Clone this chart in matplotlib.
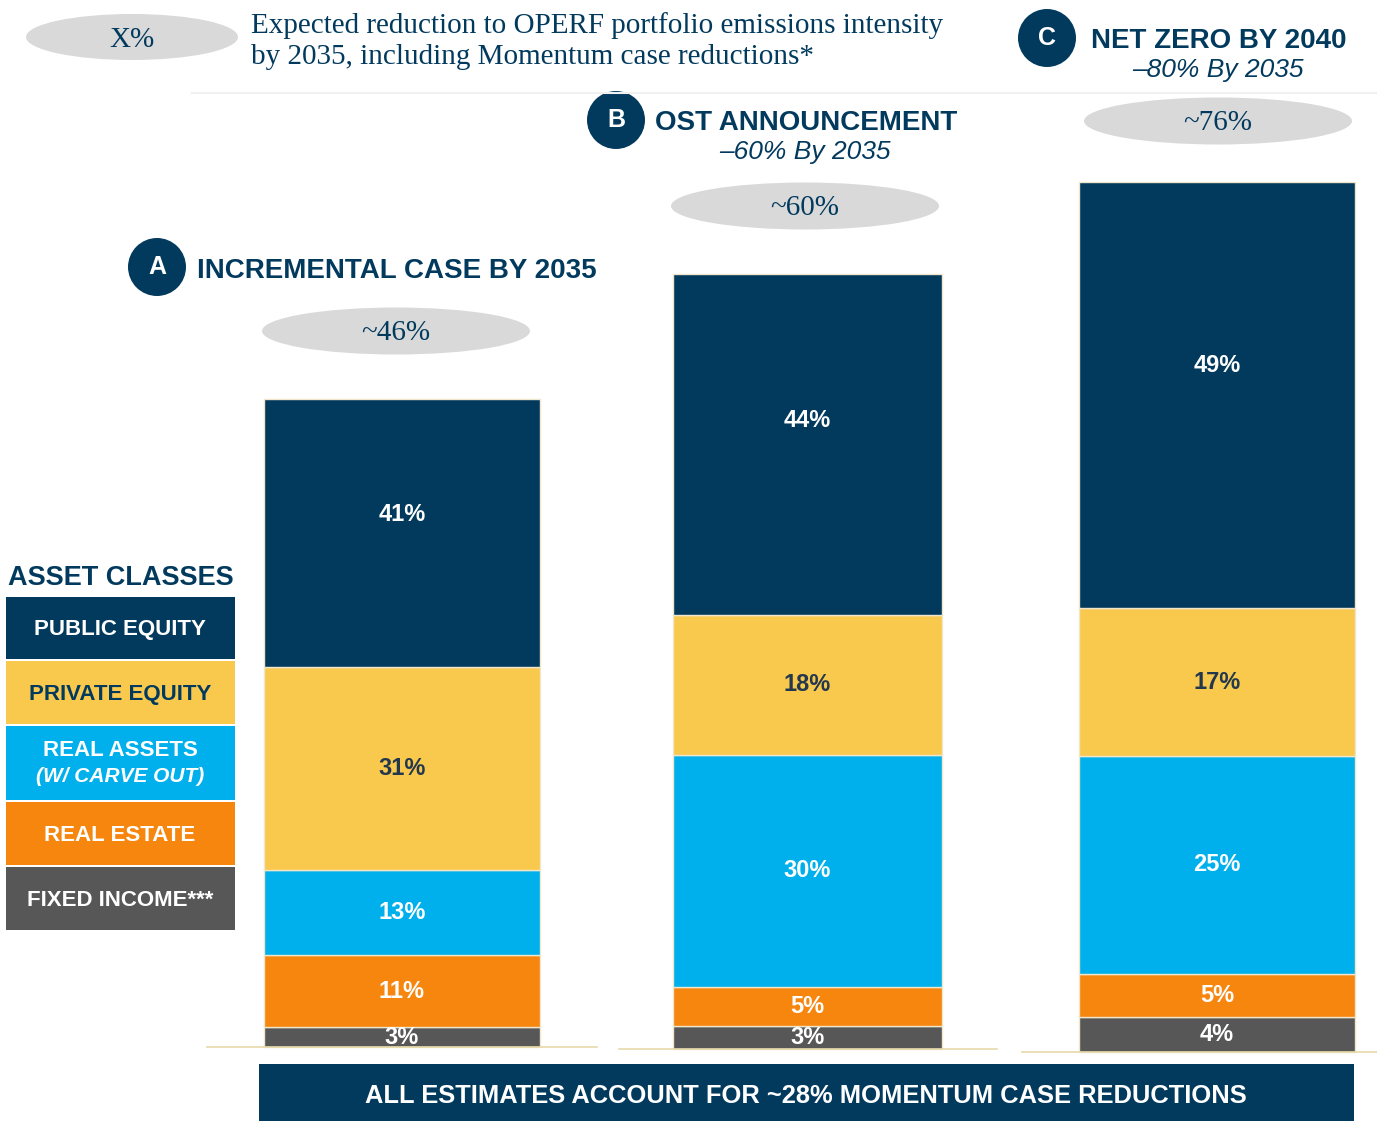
import matplotlib
matplotlib.use('Agg')
from matplotlib import pyplot as plt
from matplotlib.patches import Ellipse, Circle, Rectangle

# data
cases = ['A', 'B', 'C']
case_titles = ['INCREMENTAL CASE BY 2035', 'OST ANNOUNCEMENT', 'NET ZERO BY 2040']
case_subtitles = ['', '\u201360% By 2035', '\u201380% By 2035']
reductions = ['~46%', '~60%', '~76%']
asset_classes = ['FIXED INCOME***', 'REAL ESTATE', 'REAL ASSETS\n(W/ CARVE OUT)', 'PRIVATE EQUITY', 'PUBLIC EQUITY']
fixed_income = [3, 3, 4]
real_estate = [11, 5, 5]
real_assets = [13, 30, 25]
private_equity = [31, 18, 17]
public_equity = [41, 44, 49]
bar_totals = [648, 775, 870]   # relative bar heights

shares = [fixed_income, real_estate, real_assets, private_equity, public_equity]
colors = ['#575757', '#F7860F', '#00B0EC', '#F9C94E', '#023A5E']
label_colors = ['white', 'white', 'white', '#24384D', 'white']
navy = '#023A5E'

W, H = 1377, 1121
fig = plt.figure(figsize=(W / 100, H / 100), dpi=100)
ax = fig.add_axes([0, 0, 1, 1])
ax.set_xlim(0, W)
ax.set_ylim(0, H)
ax.axis('off')


def Y(py):
    return H - py


sans = 'Liberation Sans'
serif = 'Liberation Serif'

# bars
bar_x = [402, 807.5, 1217]
bar_w = [276, 269, 276]
base_py = [1047, 1049, 1052]
for i in range(3):
    tot = sum(s[i] for s in shares)
    bottom = Y(base_py[i])
    for k, s in enumerate(shares):
        h = s[i] / tot * bar_totals[i]
        ax.bar(bar_x[i], h, width=bar_w[i], bottom=bottom, color=colors[k],
               edgecolor='#EFE6CC', linewidth=1)
        ty = bottom + h / 2 if k < 4 else bottom + h * 0.57
        ax.text(bar_x[i], ty, f'{s[i]}%', ha='center', va='center', fontsize=17,
                fontweight='bold', color=label_colors[k], family=sans)
        bottom += h

# baselines
for x0, x1, py in [(207, 597, 1047), (619, 997, 1049), (1022, 1377, 1052)]:
    ax.plot([x0, x1], [Y(py), Y(py)], color='#E6D9A8', lw=1.2)

# top rule
ax.plot([192, 1377], [Y(93), Y(93)], color='#F0F0F0', lw=1.5)

# ellipses with reductions
ell_pos = [(396, 331), (805, 206), (1218, 121)]
for (ex, ey), r in zip(ell_pos, reductions):
    ax.add_patch(Ellipse((ex, Y(ey)), 268, 47, color='#D9D9D9', lw=0))
    ax.text(ex, Y(ey + 2), r, ha='center', va='center', fontsize=21, family=serif, color=navy)

ax.add_patch(Ellipse((132, Y(37)), 212, 46, color='#D9D9D9', lw=0))
ax.text(132, Y(40), 'X%', ha='center', va='center', fontsize=21, family=serif, color=navy)
ax.text(251, Y(41), 'Expected reduction to OPERF portfolio emissions intensity\nby 2035, including Momentum case reductions*',
        ha='left', va='center', fontsize=21, family=serif, color=navy, linespacing=1.22)

# case headings
circ_pos = [(157, 267), (616, 120), (1047, 38)]
title_pos = [(197, 271), (655, 123), (1091, 41)]
sub_pos = [None, (805, 152), (1218, 70)]
for i in range(3):
    cx, cy = circ_pos[i]
    ax.add_patch(Circle((cx, Y(cy)), 29, color=navy, lw=0))
    ax.text(cx, Y(cy), cases[i], ha='center', va='center', fontsize=18, fontweight='bold',
            color='white', family=sans)
    tx, ty = title_pos[i]
    ax.text(tx, Y(ty), case_titles[i], ha='left', va='center', fontsize=20, fontweight='bold',
            color=navy, family=sans)
    if sub_pos[i]:
        sx, sy = sub_pos[i]
        ax.text(sx, Y(sy), case_subtitles[i], ha='center', va='center', fontsize=19,
                style='italic', color=navy, family=sans)

# legend
ax.text(121, Y(578), 'ASSET CLASSES', ha='center', va='center', fontsize=19.5, fontweight='bold',
        color=navy, family=sans)
leg_boxes = [(867, 930), (802, 865), (726, 800), (661, 724), (597, 659)]
for k, (top, bot) in enumerate(leg_boxes):
    ax.add_patch(Rectangle((6, Y(bot)), 229, bot - top, color=colors[k], lw=0))
    cy = Y((top + bot) / 2)
    tc = navy if k == 3 else 'white'
    if k == 2:
        ax.text(120, cy + 13, 'REAL ASSETS', ha='center', va='center', fontsize=16,
                fontweight='bold', color=tc, family=sans)
        ax.text(120, cy - 13, '(W/ CARVE OUT)', ha='center', va='center', fontsize=15,
                fontweight='bold', style='italic', color=tc, family=sans)
    else:
        ax.text(120, cy - 2, asset_classes[k], ha='center', va='center', fontsize=16,
                fontweight='bold', color=tc, family=sans)

# bottom banner
ax.add_patch(Rectangle((259, 0), 1095, Y(1064), color=navy, lw=0))
ax.text(806, Y(1096), 'ALL ESTIMATES ACCOUNT FOR ~28% MOMENTUM CASE REDUCTIONS', ha='center',
        va='center', fontsize=18.4, fontweight='bold', color='white', family=sans)

fig.savefig('out.png', dpi=100)
